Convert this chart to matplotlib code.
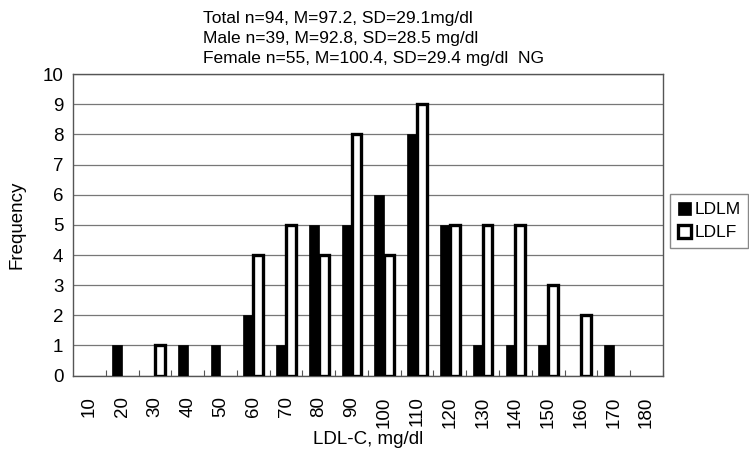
import numpy as np, matplotlib
matplotlib.use("Agg")
import matplotlib.pyplot as plt
from matplotlib.patches import Patch

plt.rcParams.update({"font.family": ["Liberation Sans", "DejaVu Sans"], "font.size": 12})

bins = [10, 20, 30, 40, 50, 60, 70, 80, 90, 100, 110, 120, 130, 140, 150, 160, 170, 180]
ldlm = [0, 1, 0, 1, 1, 2, 1, 5, 5, 6, 8, 5, 1, 1, 1, 0, 1, 0]
ldlf = [0, 0, 1, 0, 0, 4, 5, 4, 8, 4, 9, 5, 5, 5, 3, 2, 0, 0]
title_lines = ["Total n=94, M=97.2, SD=29.1mg/dl",
               "Male n=39, M=92.8, SD=28.5 mg/dl",
               "Female n=55, M=100.4, SD=29.4 mg/dl  NG"]

fig = plt.figure(figsize=(7.49, 4.57), dpi=100)
ax = fig.add_axes([0.0975, 0.178, 0.7875, 0.66])
x = np.arange(len(bins)); w = 0.3
bm = ax.bar(x - w / 2, ldlm, w, color="black", edgecolor="black", lw=0.5, zorder=3)
bf = ax.bar(x + w / 2, ldlf, w, color="white", edgecolor="black", lw=2.4, zorder=3)
# empty bins: no bar outline
for cont, vals in ((bm, ldlm), (bf, ldlf)):
    for p, v in zip(cont.patches, vals):
        if v == 0: p.set_visible(False)
ax.set_xlim(-0.5, len(bins) - 0.5); ax.set_ylim(0, 10)
ax.set_yticks(range(11))
ax.tick_params(axis="y", length=0, pad=7, labelsize=13.5)
ax.set_xticks(x + 0.5); ax.set_xticklabels([])
ax.tick_params(axis="x", which="major", direction="in", length=4, color="#555")
ax.set_xticks(x, minor=True); ax.set_xticklabels([str(b) for b in bins], minor=True, rotation=90)
ax.tick_params(axis="x", which="minor", length=0, pad=15, labelsize=13.5)
ax.yaxis.grid(True, color="#777", lw=0.9, zorder=0)
for s in ax.spines.values(): s.set_color("#555"); s.set_linewidth(1.0)
ax.set_xlabel("LDL-C, mg/dl", fontsize=13.5, labelpad=2)
ax.set_ylabel("Frequency", fontsize=13.5, labelpad=12)
fig.text(203 / 749, 1 - 11 / 457, "\n".join(title_lines), fontsize=12.5, va="top", ha="left",
         linespacing=1.4, transform=fig.transFigure)
handles = [Patch(facecolor="black", edgecolor="black", lw=0.5, label="LDLM"),
           Patch(facecolor="white", edgecolor="black", lw=2.4, label="LDLF")]
fig.legend(handles=handles, loc="upper left", bbox_to_anchor=(670 / 749, 1 - 194 / 457),
           frameon=True, fancybox=False, edgecolor="#888", fontsize=12.5, handlelength=0.75,
           handleheight=0.75, handletextpad=0.2, borderpad=0.45, borderaxespad=0,
           labelspacing=0.45, framealpha=1)
fig.savefig("out.png", dpi=100)
